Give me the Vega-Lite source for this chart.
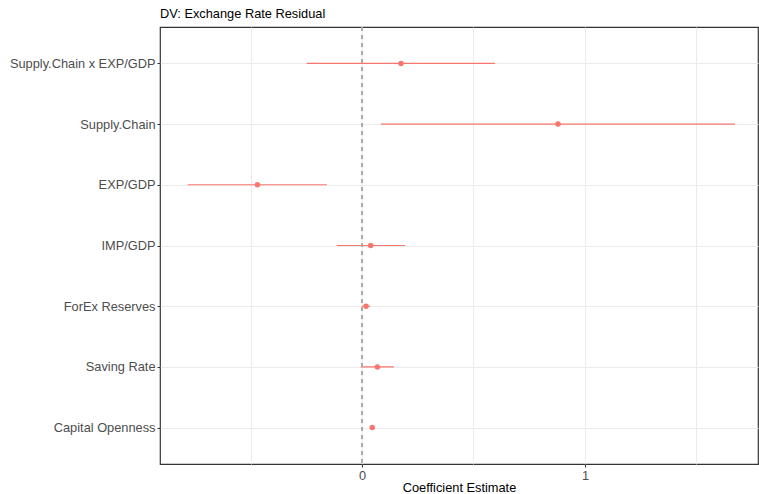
{
  "$schema": "https://vega.github.io/schema/vega-lite/v6.json",
  "width": 598,
  "height": 437,
  "autosize": {"type": "none"},
  "padding": {"left": 160, "top": 27, "right": 1, "bottom": 30},
  "background": "white",
  "title": {
    "text": "DV: Exchange Rate Residual",
    "anchor": "start",
    "frame": "group",
    "font": "Liberation Sans",
    "fontSize": 12.8,
    "fontWeight": "normal",
    "color": "#000000",
    "offset": 6
  },
  "config": {
    "view": {"stroke": "#333333", "strokeWidth": 1.2},
    "axis": {
      "labelFont": "Liberation Sans",
      "labelFontSize": 12.8,
      "labelColor": "#4D4D4D",
      "titleFont": "Liberation Sans",
      "titleFontSize": 12.8,
      "titleFontWeight": "normal",
      "titleColor": "#000000",
      "tickColor": "#333333",
      "tickSize": 3,
      "labelPadding": 2,
      "domain": false,
      "gridColor": "#EBEBEB",
      "gridWidth": 1
    }
  },
  "data": {
    "values": [
      {"term": "Supply.Chain x EXP/GDP", "est": 0.175, "lo": -0.248, "hi": 0.596},
      {"term": "Supply.Chain", "est": 0.879, "lo": 0.085, "hi": 1.673},
      {"term": "EXP/GDP", "est": -0.469, "lo": -0.782, "hi": -0.158},
      {"term": "IMP/GDP", "est": 0.039, "lo": -0.114, "hi": 0.193},
      {"term": "ForEx Reserves", "est": 0.018, "lo": -0.001, "hi": 0.036},
      {"term": "Saving Rate", "est": 0.069, "lo": -0.006, "hi": 0.143},
      {"term": "Capital Openness", "est": 0.046, "lo": 0.035, "hi": 0.058}
    ]
  },
  "resolve": {"axis": {"x": "independent"}},
  "layer": [
    {
      "mark": {"type": "rule", "color": "#F8766D", "strokeWidth": 1.1},
      "encoding": {
        "x": {
          "field": "lo",
          "type": "quantitative",
          "scale": {"domain": [-0.906, 1.776], "nice": false, "zero": false},
          "axis": {"orient": "top", "values": [-0.5, 0, 0.5, 1, 1.5], "grid": true, "ticks": false, "labels": false, "domain": false, "title": null, "minExtent": 0, "maxExtent": 0, "offset": 0}
        },
        "x2": {"field": "hi"},
        "y": {
          "field": "term",
          "type": "nominal",
          "sort": null,
          "scale": {"type": "point", "padding": 0.6},
          "axis": {"title": null, "grid": true}
        }
      }
    },
    {
      "mark": {"type": "rule", "color": "#ABABAB", "strokeDash": [4, 4], "strokeWidth": 1},
      "encoding": {
        "x": {"datum": 0, "type": "quantitative", "axis": null}
      }
    },
    {
      "mark": {"type": "point", "shape": "circle", "filled": true, "color": "#F8766D", "size": 30, "opacity": 1},
      "encoding": {
        "x": {
          "field": "est",
          "type": "quantitative",
          "axis": {"orient": "bottom", "values": [0, 1], "grid": false, "title": "Coefficient Estimate", "titlePadding": 0, "format": "d"}
        },
        "y": {
          "field": "term",
          "type": "nominal",
          "sort": null,
          "scale": {"type": "point", "padding": 0.6},
          "axis": {"title": null, "grid": true}
        }
      }
    }
  ]
}
